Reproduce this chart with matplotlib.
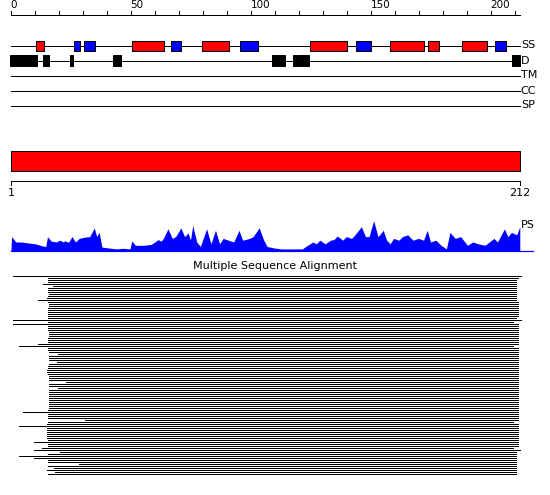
import matplotlib
matplotlib.use('Agg')
import matplotlib.pyplot as plt
from matplotlib.patches import Rectangle

# ---------------- data ----------------
seq_len = 212
ruler_ticks = list(range(0, 211, 10))
ruler_labels = [0, 50, 100, 150, 200]
track_names = ['SS', 'D', 'TM', 'CC', 'SP']

# secondary structure: H = helix (red), E = strand (blue)
ss_type = ['H', 'E', 'E', 'H', 'E', 'H', 'E', 'H', 'E', 'H', 'H', 'H', 'E']
ss_start = [10.4, 26.2, 30.5, 50.6, 66.8, 79.7, 95.6, 124.7, 143.9, 158.0, 173.9, 188.0, 201.8]
ss_end = [13.6, 28.6, 34.9, 63.6, 70.7, 90.7, 102.8, 139.9, 150.0, 172.0, 178.2, 198.2, 206.1]

# disordered regions
dis_start = [-0.4, 13.3, 24.6, 42.5, 108.7, 117.4, 119.7, 208.7]
dis_end = [10.7, 15.8, 25.7, 45.7, 114.0, 119.2, 124.2, 212.0]

# domain
domain_start, domain_end = 1, 212
domain_labels = ['1', '212']

# profile score (PS)
ps_pos = [0.0, 0.25, 2.0, 4.2, 7.1, 10.1, 13.0, 14.5, 15.2, 16.7, 18.9, 20.3, 21.8, 22.5, 24.0,
          25.4, 26.9, 28.4, 30.6, 32.8, 34.7, 35.7, 36.7, 37.9, 40.8, 43.8, 46.7, 49.6, 50.3,
          51.8, 55.5, 58.4, 59.9, 61.3, 62.5, 63.5, 65.4, 67.2, 68.6, 70.8, 72.3, 73.8, 74.8,
          75.7, 77.4, 78.9, 81.5, 83.3, 85.2, 86.9, 88.4, 90.6, 92.8, 95.0, 96.5, 99.4, 100.9,
          103.4, 105.3, 106.7, 109.7, 112.6, 117.0, 121.4, 122.8, 125.8, 127.2, 128.7, 130.9,
          133.1, 134.5, 136.0, 138.2, 139.7, 141.9, 143.3, 146.0, 147.7, 149.2, 151.1, 152.9,
          153.6, 155.1, 156.5, 158.0, 159.4, 161.6, 163.1, 165.3, 167.5, 169.7, 171.9, 173.4,
          174.8, 177.0, 179.2, 181.4, 182.9, 185.1, 187.3, 190.2, 192.4, 194.6, 197.5, 201.2,
          202.7, 205.6, 207.0, 208.5, 210.7, 212.0]
ps_val = [0.05, 0.47, 0.29, 0.29, 0.26, 0.23, 0.16, 0.14, 0.47, 0.32, 0.29, 0.35, 0.29, 0.33, 0.28,
          0.47, 0.29, 0.41, 0.45, 0.47, 0.76, 0.47, 0.61, 0.12, 0.09, 0.06, 0.08, 0.06, 0.33,
          0.18, 0.18, 0.21, 0.29, 0.37, 0.32, 0.41, 0.73, 0.41, 0.47, 0.76, 0.47, 0.59, 0.35,
          0.84, 0.29, 0.14, 0.73, 0.23, 0.68, 0.23, 0.41, 0.35, 0.29, 0.68, 0.35, 0.41, 0.47,
          0.76, 0.35, 0.14, 0.09, 0.06, 0.06, 0.06, 0.14, 0.29, 0.23, 0.35, 0.23,
          0.35, 0.37, 0.49, 0.35, 0.47, 0.41, 0.53, 0.80, 0.47, 0.47, 1.00, 0.47,
          0.53, 0.68, 0.35, 0.23, 0.41, 0.35, 0.47, 0.53, 0.35, 0.41, 0.35, 0.68,
          0.29, 0.35, 0.18, 0.06, 0.61, 0.41, 0.47, 0.18, 0.29, 0.23, 0.18, 0.41,
          0.29, 0.73, 0.47, 0.61, 0.53, 0.80]

# multiple sequence alignment: start / end residue of each aligned sequence
msa_start = [0.7, 15.5, 15.5, 15.5, 13.5, 17.6, 15.5, 15.5, 15.5, 15.8,
             15.5, 15.2, 11.4, 15.5, 16.0, 16.0, 15.5, 15.5, 15.5, 15.5,
             15.5, 15.5, 0.7, 15.5, 0.7, 15.5, 15.5, 15.5, 15.8, 16.0,
             16.0, 15.5, 15.5, 15.5, 11.4, 3.5, 15.5, 15.5, 16.0, 19.7,
             16.0, 16.0, 16.0, 19.0, 16.0, 15.5, 15.5, 15.2, 14.9, 15.5,
             16.0, 16.0, 16.0, 23.0, 16.0, 16.0, 19.6, 16.0, 16.0, 16.0,
             16.0, 16.0, 16.0, 16.0, 16.0, 16.0, 16.0, 15.5, 4.9, 15.5,
             15.5, 15.5, 31.0, 15.5, 15.2, 3.5, 15.2, 15.2, 15.2, 15.2,
             15.2, 15.2, 15.5, 9.7, 15.5, 15.5, 12.8, 9.7, 20.4, 15.5,
             3.5, 9.7, 15.5, 15.5, 28.5, 15.5, 17.8, 14.9, 18.3, 15.5]
msa_end = [212.4, 211.1, 210.3, 210.3, 210.3, 210.3, 210.3, 210.3, 210.3, 210.3,
           210.3, 210.3, 210.3, 211.1, 211.1, 211.1, 211.1, 211.1, 211.1, 211.1,
           211.1, 210.3, 212.4, 209.0, 211.1, 211.1, 211.1, 211.1, 211.1, 211.1,
           211.1, 211.1, 211.1, 211.1, 211.1, 209.0, 211.1, 211.1, 211.1, 211.1,
           211.1, 211.1, 211.1, 211.1, 211.1, 211.1, 211.1, 211.1, 211.1, 211.1,
           211.1, 211.1, 211.1, 211.1, 211.1, 211.1, 211.1, 211.1, 211.1, 211.1,
           211.1, 211.1, 211.1, 211.1, 211.1, 211.1, 211.1, 211.1, 211.1, 211.1,
           211.1, 211.1, 211.1, 209.0, 211.1, 211.1, 211.1, 211.1, 211.1, 211.1,
           211.1, 211.1, 211.1, 211.1, 211.1, 211.1, 209.0, 212.0, 210.3, 210.3,
           210.3, 210.3, 210.3, 210.3, 210.3, 210.3, 210.3, 210.3, 210.3, 210.3]

# ---------------- layout ----------------
W, H = 550, 495
PX0, PXR = 11.0, 2.4          # pixel of residue 0, pixels per residue
X0, X1 = -PX0 / PXR, (W - PX0) / PXR
LW = 0.72                      # 1 pixel in points at 100 dpi
RED, BLUE = '#ff0000', '#0000ff'

fig = plt.figure(figsize=(W / 100, H / 100), dpi=100)


def band(top, bottom):
    ax = fig.add_axes([0, 1 - bottom / H, 1, (bottom - top) / H])
    ax.set_xlim(X0, X1)
    ax.axis('off')
    return ax


# ---- top ruler + feature tracks ----
ax = band(0, 118)
ax.set_ylim(118, 0)
ruler_y = 14.5
ax.plot([0, seq_len], [ruler_y, ruler_y], color='black', lw=LW, antialiased=False)
ax.vlines(ruler_ticks, ruler_y - 4, ruler_y, color='black', lw=LW, antialiased=False)
for t in ruler_labels:
    ax.text(t - 0.2, ruler_y - 4.5, str(t), ha='left', va='bottom', fontsize=7.5,
            color='black')

row_y = {name: 45.5 + 15 * i for i, name in enumerate(track_names)}
for name in track_names:
    y = row_y[name]
    ax.plot([0, seq_len], [y, y], color='black', lw=LW, zorder=1, antialiased=False)
    ax.text(seq_len + 0.4, y, name, ha='left', va='center', fontsize=8)

y = row_y['SS']
for t, s, e in zip(ss_type, ss_start, ss_end):
    ax.add_patch(Rectangle((s, y - 5), e - s, 10, facecolor=RED if t == 'H' else BLUE,
                           edgecolor='black', lw=LW, zorder=2))
y = row_y['D']
for s, e in zip(dis_start, dis_end):
    ax.add_patch(Rectangle((s, y - 5.3), e - s, 10.6, facecolor='black',
                           edgecolor='black', lw=LW, zorder=2))

# ---- domain bar ----
ax = band(140, 205)
ax.set_ylim(205, 140)
ax.add_patch(Rectangle((domain_start - 1, 150.5), domain_end - domain_start + 1, 20,
                       facecolor=RED, edgecolor='black', lw=LW))
ax.plot([domain_start - 1, domain_end], [180.5, 180.5], color='black', lw=LW,
        antialiased=False)
ax.vlines([domain_start - 1, domain_end], 180.5, 185, color='black', lw=LW,
          antialiased=False)
ax.text(domain_start - 1, 188, domain_labels[0], ha='center', va='top', fontsize=8)
ax.text(domain_end, 188, domain_labels[1], ha='center', va='top', fontsize=8)

# ---- profile score ----
base_px, unit_px = 250.7, 30.0
ax = band(205, 258)
ax.set_ylim(-(258 - base_px) / unit_px, (base_px - 205) / unit_px)
ax.fill_between(ps_pos, 0, ps_val, color=BLUE, lw=0)
ax.plot([0, seq_len + 5.5], [0, 0], color=BLUE, lw=LW * 1.2)
ax.text(seq_len + 0.6, (base_px - 225) / unit_px, 'PS', ha='left', va='center', fontsize=8)

# ---- multiple sequence alignment ----
ax = band(258, 482)
first_px, pitch = 275.5, 2.0
ax.set_ylim((482 - first_px) / pitch, (258 - first_px) / pitch)
rows = list(range(len(msa_start)))
ax.hlines(rows, msa_start, msa_end, color='black', lw=LW, antialiased=False)
fig.text(275 / W, 1 - 266 / H, 'Multiple Sequence Alignment', ha='center', va='center',
         fontsize=8)

fig.savefig('out.png', dpi=100)
